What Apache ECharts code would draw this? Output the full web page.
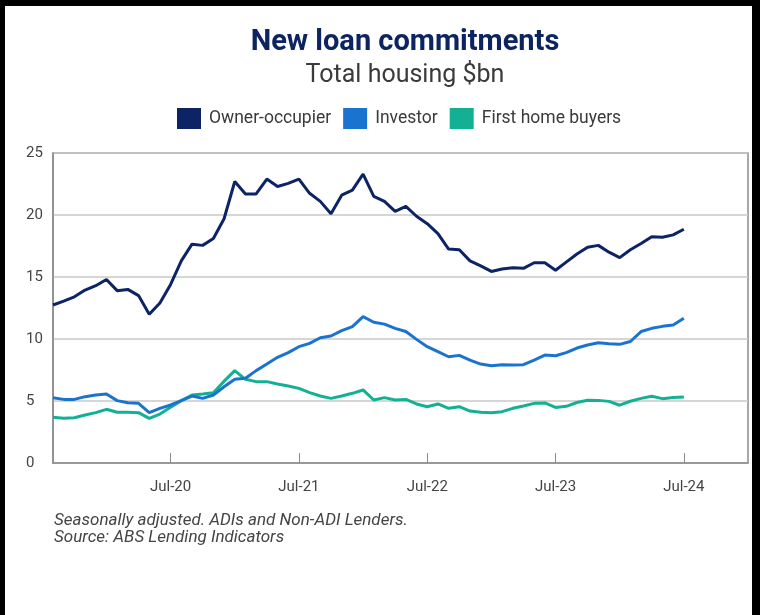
<!DOCTYPE html>
<html>
<head>
<meta charset="utf-8">
<script src="https://cdn.jsdelivr.net/npm/echarts@6/dist/echarts.min.js"></script>
<style>
  html, body { margin: 0; padding: 0; background: #ffffff; }
  #chart { width: 760px; height: 615px; }
</style>
</head>
<body>
<div id="chart"></div>
<script>
// Monthly axis, Aug-19 through Jan-25 (data runs to Jul-24)
const months = [
  'Aug-19','Sep-19','Oct-19','Nov-19','Dec-19',
  'Jan-20','Feb-20','Mar-20','Apr-20','May-20','Jun-20','Jul-20','Aug-20','Sep-20','Oct-20','Nov-20','Dec-20',
  'Jan-21','Feb-21','Mar-21','Apr-21','May-21','Jun-21','Jul-21','Aug-21','Sep-21','Oct-21','Nov-21','Dec-21',
  'Jan-22','Feb-22','Mar-22','Apr-22','May-22','Jun-22','Jul-22','Aug-22','Sep-22','Oct-22','Nov-22','Dec-22',
  'Jan-23','Feb-23','Mar-23','Apr-23','May-23','Jun-23','Jul-23','Aug-23','Sep-23','Oct-23','Nov-23','Dec-23',
  'Jan-24','Feb-24','Mar-24','Apr-24','May-24','Jun-24','Jul-24','Aug-24','Sep-24','Oct-24','Nov-24','Dec-24',
  'Jan-25'
];

const xTickLabels = ['Jul-20', 'Jul-21', 'Jul-22', 'Jul-23', 'Jul-24'];

// New loan commitments, $bn, seasonally adjusted
const ownerOccupier = [
  12.74, 13.06, 13.4, 13.95, 14.3, 14.8, 13.9, 14.0, 13.5, 12.0,
  12.9, 14.4, 16.3, 17.65, 17.55, 18.1, 19.7, 22.7, 21.7, 21.7,
  22.9, 22.3, 22.55, 22.9, 21.75, 21.1, 20.1, 21.6, 22.0, 23.3,
  21.5, 21.1, 20.3, 20.7, 19.9, 19.3, 18.5, 17.25, 17.2, 16.3,
  15.9, 15.45, 15.65, 15.75, 15.7, 16.15, 16.15, 15.55, 16.2, 16.85,
  17.4, 17.55, 17.0, 16.56, 17.2, 17.7, 18.25, 18.2, 18.4, 18.85
];

const investor = [
  5.27, 5.13, 5.13, 5.35, 5.48, 5.56, 5.03, 4.86, 4.81, 4.06,
  4.41, 4.68, 5.03, 5.4, 5.21, 5.48, 6.15, 6.75, 6.83, 7.45,
  7.98, 8.52, 8.9, 9.38, 9.65, 10.1, 10.24, 10.67, 11.0, 11.8,
  11.35, 11.2, 10.86, 10.6, 9.97, 9.38, 8.98, 8.57, 8.68, 8.3,
  7.98, 7.85, 7.93, 7.9, 7.93, 8.3, 8.7, 8.65, 8.9, 9.27,
  9.52, 9.7, 9.62, 9.57, 9.8, 10.6, 10.86, 11.02, 11.13, 11.67
];

const firstHomeBuyers = [
  3.68, 3.6, 3.65, 3.87, 4.06, 4.33, 4.09, 4.09, 4.06, 3.6,
  3.95, 4.49, 5.03, 5.48, 5.56, 5.67, 6.6, 7.45, 6.75, 6.56,
  6.56, 6.37, 6.21, 6.02, 5.67, 5.4, 5.21, 5.4, 5.62, 5.89,
  5.08, 5.27, 5.08, 5.13, 4.76, 4.54, 4.76, 4.41, 4.54, 4.19,
  4.09, 4.06, 4.14, 4.41, 4.6, 4.81, 4.84, 4.48, 4.57, 4.88,
  5.06, 5.05, 4.97, 4.66, 4.98, 5.21, 5.38, 5.19, 5.28, 5.32
];

const seriesNames = ['Owner-occupier', 'Investor', 'First home buyers'];
const seriesColors = ['#0c2466', '#1a74cf', '#14b094'];
const seriesData = [ownerOccupier, investor, firstHomeBuyers];

const FONT = 'Roboto, "DejaVu Sans", sans-serif';
const isTick = (idx, val) => xTickLabels.indexOf(val) !== -1;

const chart = echarts.init(document.getElementById('chart'), null, { renderer: 'canvas' });

chart.setOption({
  backgroundColor: '#ffffff',
  animation: false,
  textStyle: { fontFamily: FONT },
  title: [
    {
      text: 'New loan commitments',
      left: 400, top: 23, textAlign: 'center',
      textStyle: { fontSize: 29, fontWeight: 'bold', color: '#0c2461', fontFamily: FONT }
    },
    {
      text: 'Total housing $bn',
      left: 400, top: 58, textAlign: 'center',
      textStyle: { fontSize: 25, fontWeight: 'normal', color: '#3a3a3a', fontFamily: FONT }
    },
    {
      text: 'Seasonally adjusted. ADIs and Non-ADI Lenders.\nSource: ABS Lending Indicators',
      left: 49, top: 507,
      textStyle: { fontSize: 17, fontStyle: 'italic', fontWeight: 'normal', color: '#444444', lineHeight: 17, fontFamily: FONT }
    }
  ],
  legend: {
    top: 103, left: 172,
    icon: 'rect', itemWidth: 24, itemHeight: 21, itemGap: 12,
    textStyle: { fontSize: 17.5, color: '#3a3a3a', fontFamily: FONT, padding: [0, 0, 0, 3] },
    data: seriesNames
  },
  grid: {
    left: 53, right: 12, top: 153, bottom: 152,
    show: true, borderColor: '#8c8c8c', borderWidth: 1.5, containLabel: false
  },
  xAxis: {
    type: 'category',
    data: months,
    boundaryGap: false,
    axisLine: { show: true, lineStyle: { color: '#8c8c8c', width: 1.5 } },
    axisTick: { show: true, inside: true, length: 10, interval: isTick, lineStyle: { color: '#8c8c8c', width: 1 } },
    axisLabel: { interval: isTick, margin: 17, fontSize: 15, color: '#444444', fontFamily: FONT },
    splitLine: { show: false }
  },
  yAxis: {
    type: 'value',
    min: 0, max: 25, interval: 5,
    axisLine: { show: true, lineStyle: { color: '#8c8c8c', width: 1.5 } },
    axisTick: { show: false },
    axisLabel: { align: 'left', margin: 27, fontSize: 15, color: '#444444', fontFamily: FONT },
    splitLine: { show: true, lineStyle: { color: '#c8c8c8', width: 1.5 } }
  },
  series: seriesNames.map((name, i) => ({
    name: name,
    type: 'line',
    data: seriesData[i],
    symbol: 'none',
    smooth: false,
    color: seriesColors[i],
    lineStyle: { width: 3, color: seriesColors[i] },
    z: 3 - i
  })),
  graphic: [
    // dark frame edges around the figure
    { type: 'rect', left: 0, top: 0, shape: { width: 760, height: 6 }, style: { fill: '#000000' }, silent: true },
    { type: 'rect', left: 0, top: 0, shape: { width: 5, height: 615 }, style: { fill: '#000000' }, silent: true },
    { type: 'rect', left: 752, top: 0, shape: { width: 8, height: 615 }, style: { fill: '#000000' }, silent: true }
  ]
});
</script>
</body>
</html>
